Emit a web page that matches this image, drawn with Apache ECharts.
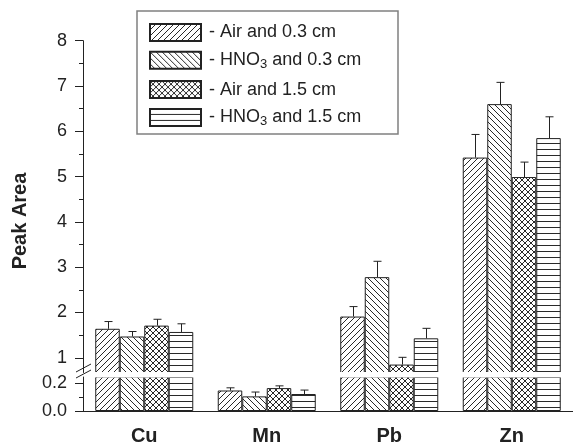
<!DOCTYPE html>
<html><head><meta charset="utf-8">
<script src="https://cdn.jsdelivr.net/npm/echarts@6/dist/echarts.min.js"></script>
<style>html,body{margin:0;padding:0;background:#fff}#c{width:573px;height:446px}</style>
</head><body><div id="c"></div>
<script>
// ---- data ----
const categories = ['Cu', 'Mn', 'Pb', 'Zn'];
const seriesNames = ['Air and 0.3 cm', 'HNO3 and 0.3 cm', 'Air and 1.5 cm', 'HNO3 and 1.5 cm'];
const airShort = [1.64, 0.146, 1.91, 5.42];
const airShortErr = [0.16, 0.019, 0.22, 0.51];
const hno3Short = [1.47, 0.104, 2.78, 6.60];
const hno3ShortErr = [0.11, 0.031, 0.35, 0.48];
const airLong = [1.71, 0.163, 0.85, 4.99];
const airLongErr = [0.14, 0.016, 0.16, 0.33];
const hno3Long = [1.57, 0.121, 1.43, 5.85];
const hno3LongErr = [0.18, 0.028, 0.22, 0.47];
const upperTicks = [1, 2, 3, 4, 5, 6, 7, 8];
const upperMinorTicks = [1.5, 2.5, 3.5, 4.5, 5.5, 6.5, 7.5];
const lowerTicks = [0, 0.2];
const lowerMinorTicks = [0.1];

const values = [airShort, hno3Short, airLong, hno3Long];
const errors = [airShortErr, hno3ShortErr, airLongErr, hno3LongErr];

// ---- layout ----
const W = 573, H = 446;
const upperMin = 0.675, upperMax = 8;
const lowerMin = 0, lowerMax = 0.242;
const gridLeft = 83, gridRight = -10;
const upperTop = 40.7, upperBottomPx = 372.5;
const lowerTop = 377, lowerBottomPx = 411.5;
const ink = '#222';
const FONT = 'Arial, Liberation Sans, sans-serif';

function makePattern(kind) {
  const s = kind === 'h' ? 6 : 6;
  const cv = document.createElement('canvas');
  cv.width = s; cv.height = s;
  const ctx = cv.getContext('2d');
  ctx.fillStyle = '#fff'; ctx.fillRect(0, 0, s, s);
  ctx.strokeStyle = '#111';
  ctx.lineWidth = 0.9;
  const diag = (dir) => {
    for (const o of [-s, 0, s]) {
      ctx.beginPath();
      if (dir > 0) { ctx.moveTo(o - 1, s + 1); ctx.lineTo(o + s + 1, -1); }
      else { ctx.moveTo(o - 1, -1); ctx.lineTo(o + s + 1, s + 1); }
      ctx.stroke();
    }
  };
  if (kind === 'f') diag(1);
  else if (kind === 'b') diag(-1);
  else if (kind === 'x') { diag(1); diag(-1); }
  else if (kind === 'h') { ctx.beginPath(); ctx.moveTo(0, s - 0.5); ctx.lineTo(s, s - 0.5); ctx.stroke(); }
  return { image: cv, repeat: 'repeat' };
}
const patterns = [makePattern('f'), makePattern('b'), makePattern('x'), makePattern('h')];

function errRender(k, lo, hi) {
  return function (params, api) {
    const c = api.value(0), v = api.value(1), e = api.value(2);
    const top = v + e;
    if (v < lo || top > hi) return null;
    const base = api.coord([c, v]);
    const tip = api.coord([c, top]);
    const band = api.size([1, 0])[0];
    const bw = band * 0.8 / 4;
    const x = Math.round(base[0] + (k - 1.5) * bw) + 0.5;
    const cap = 4;
    const st = { stroke: ink, lineWidth: 1 };
    return {
      type: 'group', children: [
        { type: 'line', shape: { x1: x, y1: base[1], x2: x, y2: tip[1] }, style: st },
        { type: 'line', shape: { x1: x - cap, y1: tip[1], x2: x + cap, y2: tip[1] }, style: st }
      ]
    };
  };
}

const series = [];
for (let k = 0; k < 4; k++) {
  series.push({
    type: 'bar', name: seriesNames[k], xAxisIndex: 0, yAxisIndex: 0,
    data: values[k], barGap: '0%', barCategoryGap: '20%', clip: true,
    itemStyle: { color: patterns[k], borderColor: ink, borderWidth: 1 }
  });
}
for (let k = 0; k < 4; k++) {
  series.push({
    type: 'bar', name: seriesNames[k], xAxisIndex: 1, yAxisIndex: 2,
    data: values[k], barGap: '0%', barCategoryGap: '20%', clip: true,
    itemStyle: { color: patterns[k], borderColor: ink, borderWidth: 1 }
  });
}
for (let k = 0; k < 4; k++) {
  const d = categories.map((c, i) => [i, values[k][i], errors[k][i]]);
  series.push({ type: 'custom', xAxisIndex: 0, yAxisIndex: 0, data: d, encode: { x: 0, y: 1 },
    renderItem: errRender(k, upperMin, upperMax), z: 3 });
  series.push({ type: 'custom', xAxisIndex: 1, yAxisIndex: 2, data: d, encode: { x: 0, y: 1 },
    renderItem: errRender(k, lowerMin, lowerMax), z: 3 });
}

const tickLabel = { color: ink, fontSize: 18, fontFamily: FONT, margin: 16 };

const chart = echarts.init(document.getElementById('c'), null, { renderer: 'canvas' });
chart.setOption({
  animation: false,
  backgroundColor: '#fff',
  grid: [
    { left: gridLeft, right: gridRight, top: upperTop, bottom: H - upperBottomPx },
    { left: gridLeft, right: gridRight, top: lowerTop, bottom: H - lowerBottomPx }
  ],
  legend: {
    data: seriesNames, orient: 'vertical', left: 149, top: 23, padding: 0,
    itemWidth: 51, itemHeight: 17, itemGap: 8.8, icon: 'rect',
    selectedMode: false,
    textStyle: { color: ink, fontSize: 18, fontFamily: FONT, padding: [0, 0, 0, 3],
      rich: { sub: { fontSize: 13, verticalAlign: 'bottom', padding: [9, 0, 0, 0], color: ink, fontFamily: FONT } } },
    formatter: n => '- ' + n.replace('HNO3', 'HNO{sub|3}')
  },
  xAxis: [
    { type: 'category', gridIndex: 0, data: categories, show: false },
    { type: 'category', gridIndex: 1, data: categories,
      axisLine: { lineStyle: { color: ink, width: 1 } },
      axisTick: { alignWithLabel: true, length: 6, lineStyle: { color: ink } },
      axisLabel: { color: ink, fontSize: 20, fontWeight: 'bold', fontFamily: FONT, margin: 15 } },
    { type: 'category', gridIndex: 1, data: categories,
      axisLine: { show: false }, axisLabel: { show: false },
      axisTick: { length: 3, lineStyle: { color: ink } } }
  ],
  yAxis: [
    { type: 'value', gridIndex: 0, min: upperMin, max: upperMax, position: 'left',
      axisLine: { show: true, lineStyle: { color: ink } },
      axisTick: { show: true, length: 8, customValues: upperTicks, lineStyle: { color: ink } },
      axisLabel: Object.assign({ customValues: upperTicks }, tickLabel),
      splitLine: { show: false } },
    { type: 'value', gridIndex: 0, min: upperMin, max: upperMax, position: 'left',
      axisLine: { show: false }, axisLabel: { show: false }, splitLine: { show: false },
      axisTick: { show: true, length: 4, customValues: upperMinorTicks, lineStyle: { color: ink } } },
    { type: 'value', gridIndex: 1, min: lowerMin, max: lowerMax, position: 'left',
      axisLine: { show: true, lineStyle: { color: ink } },
      axisTick: { show: true, length: 8, customValues: lowerTicks, lineStyle: { color: ink } },
      axisLabel: Object.assign({ customValues: lowerTicks, formatter: v => v.toFixed(1) }, tickLabel),
      splitLine: { show: false } },
    { type: 'value', gridIndex: 1, min: lowerMin, max: lowerMax, position: 'left',
      axisLine: { show: false }, axisLabel: { show: false }, splitLine: { show: false },
      axisTick: { show: true, length: 4, customValues: lowerMinorTicks, lineStyle: { color: ink } } }
  ],
  graphic: [
    { type: 'rect', z: 100, shape: { x: 84, y: 372, width: W, height: 5.6 }, style: { fill: '#fff' } },
    { type: 'rect', z: 100, shape: { x: 137, y: 11, width: 261, height: 123 }, style: { fill: null, stroke: '#808080', lineWidth: 1.5 } },
    { type: 'text', z: 100, x: 20, y: 221, rotation: Math.PI / 2,
      style: { text: 'Peak Area', font: 'bold 20px ' + FONT, align: 'center', verticalAlign: 'middle', fill: ink } },
    { type: 'line', z: 101, shape: { x1: 76, y1: 372, x2: 91, y2: 364 }, style: { stroke: ink, lineWidth: 1 } },
    { type: 'line', z: 101, shape: { x1: 76, y1: 378, x2: 91, y2: 370 }, style: { stroke: ink, lineWidth: 1 } }
  ],
  series: series
});
</script>
</body></html>
